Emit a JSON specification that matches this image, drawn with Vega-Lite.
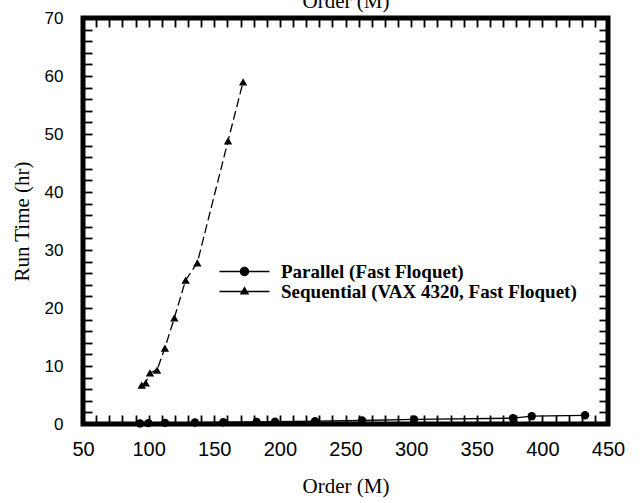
{
  "$schema": "https://vega.github.io/schema/vega-lite/v6.json",
  "width": 525,
  "height": 406,
  "autosize": {"type": "none"},
  "padding": {"left": 83, "top": 18, "right": 32, "bottom": 79},
  "background": "white",
  "config": {
    "view": {"stroke": "black", "strokeWidth": 5},
    "axis": {
      "domain": false,
      "grid": false,
      "tickColor": "black",
      "tickWidth": 1.8,
      "tickSize": -9,
      "labelColor": "black",
      "labelOverlap": false,
      "labelFlush": false,
      "titleColor": "black",
      "titleFont": "Liberation Serif",
      "titleFontWeight": "normal",
      "titleFontSize": 21
    }
  },
  "datasets": {
    "runs": [
      {"series": "Parallel (Fast Floquet)", "order": 93.4, "time": 0.1},
      {"series": "Parallel (Fast Floquet)", "order": 99.8, "time": 0.15},
      {"series": "Parallel (Fast Floquet)", "order": 112.5, "time": 0.2},
      {"series": "Parallel (Fast Floquet)", "order": 135.3, "time": 0.25},
      {"series": "Parallel (Fast Floquet)", "order": 156.9, "time": 0.3},
      {"series": "Parallel (Fast Floquet)", "order": 182.3, "time": 0.35},
      {"series": "Parallel (Fast Floquet)", "order": 196.3, "time": 0.4},
      {"series": "Parallel (Fast Floquet)", "order": 226.8, "time": 0.5},
      {"series": "Parallel (Fast Floquet)", "order": 262.6, "time": 0.6},
      {"series": "Parallel (Fast Floquet)", "order": 302.2, "time": 0.8},
      {"series": "Parallel (Fast Floquet)", "order": 377.6, "time": 1.0},
      {"series": "Parallel (Fast Floquet)", "order": 391.9, "time": 1.35},
      {"series": "Parallel (Fast Floquet)", "order": 432.5, "time": 1.5},
      {"series": "Sequential (VAX 4320, Fast Floquet)", "order": 94.7, "time": 6.7},
      {"series": "Sequential (VAX 4320, Fast Floquet)", "order": 97.8, "time": 7.1},
      {"series": "Sequential (VAX 4320, Fast Floquet)", "order": 101.0, "time": 8.8},
      {"series": "Sequential (VAX 4320, Fast Floquet)", "order": 106.4, "time": 9.3},
      {"series": "Sequential (VAX 4320, Fast Floquet)", "order": 112.4, "time": 13.1},
      {"series": "Sequential (VAX 4320, Fast Floquet)", "order": 119.6, "time": 18.3},
      {"series": "Sequential (VAX 4320, Fast Floquet)", "order": 128.2, "time": 24.8},
      {"series": "Sequential (VAX 4320, Fast Floquet)", "order": 137.1, "time": 27.8},
      {"series": "Sequential (VAX 4320, Fast Floquet)", "order": 160.5, "time": 48.8},
      {"series": "Sequential (VAX 4320, Fast Floquet)", "order": 172.0, "time": 59.0}
    ]
  },
  "layer": [
    {
      "data": {"name": "runs"},
      "encoding": {
        "x": {
          "field": "order",
          "type": "quantitative",
          "scale": {"domain": [50, 450], "nice": false, "zero": false},
          "axis": {
            "orient": "bottom",
            "title": "Order (M)",
            "titlePadding": 16,
            "values": [50, 60, 70, 80, 90, 100, 110, 120, 130, 140, 150, 160, 170, 180, 190, 200, 210, 220, 230, 240, 250, 260, 270, 280, 290, 300, 310, 320, 330, 340, 350, 360, 370, 380, 390, 400, 410, 420, 430, 440, 450],
            "labelExpr": "datum.value % 50 === 0 ? datum.label : ''",
            "labelFont": "Liberation Sans",
            "labelFontSize": 20,
            "labelPadding": 24,
            "encode": {"ticks": {"update": {"y2": {"signal": "datum.value % 50 === 0 ? -9 : -5"}}}}
          }
        },
        "y": {
          "field": "time",
          "type": "quantitative",
          "scale": {"domain": [0, 70], "nice": false},
          "axis": {
            "orient": "left",
            "title": "Run Time (hr)",
            "titlePadding": 12,
            "values": [0, 2, 4, 6, 8, 10, 12, 14, 16, 18, 20, 22, 24, 26, 28, 30, 32, 34, 36, 38, 40, 42, 44, 46, 48, 50, 52, 54, 56, 58, 60, 62, 64, 66, 68, 70],
            "labelExpr": "datum.value % 10 === 0 ? datum.label : ''",
            "labelFont": "Liberation Sans",
            "labelFontSize": 17,
            "labelPadding": 29,
            "encode": {"ticks": {"update": {"x2": {"signal": "datum.value % 10 === 0 ? 9 : 5"}}}}
          }
        }
      },
      "layer": [
        {
          "transform": [{"filter": "datum.series === 'Parallel (Fast Floquet)'"}],
          "mark": {"type": "line", "color": "black", "strokeWidth": 1.3},
          "encoding": {}
        },
        {
          "transform": [{"filter": "datum.series === 'Sequential (VAX 4320, Fast Floquet)'"}],
          "mark": {"type": "line", "color": "black", "strokeWidth": 1.3, "strokeDash": [9, 4]},
          "encoding": {}
        },
        {
          "mark": {"type": "point", "filled": true, "color": "black", "opacity": 1, "size": 70},
          "encoding": {
            "shape": {
              "field": "series",
              "type": "nominal",
              "scale": {
                "domain": ["Parallel (Fast Floquet)", "Sequential (VAX 4320, Fast Floquet)"],
                "range": ["circle", "triangle-up"]
              },
              "legend": null
            }
          }
        },
        {
          "transform": [{"filter": "false"}],
          "mark": {"type": "point", "filled": true, "color": "black", "opacity": 1},
          "encoding": {
            "shape": {
              "field": "series",
              "type": "nominal",
              "scale": {
                "domain": ["Parallel (Fast Floquet)", "Sequential (VAX 4320, Fast Floquet)"],
                "range": [
                  "M-5,-0.16H5V0.16H-5ZM0.94,0A0.94,0.94 0 1,1 -0.94,0A0.94,0.94 0 1,1 0.94,0Z",
                  "M-5,-0.16H5V0.16H-5ZM0,-1.05L0.95,0.6L-0.95,0.6Z"
                ]
              },
              "legend": {
                "title": null,
                "orient": "none",
                "legendX": 152,
                "legendY": 244,
                "padding": 0,
                "symbolSize": 100,
                "symbolFillColor": "black",
                "symbolOpacity": 1,
                "labelOffset": 27,
                "rowPadding": -2,
                "labelFont": "Liberation Serif",
                "labelFontWeight": "bold",
                "labelFontSize": 19,
                "labelColor": "black",
                "labelLimit": 420
              }
            }
          }
        }
      ],
      "resolve": {"scale": {"shape": "independent"}}
    },
    {
      "data": {"values": [{"order": 50, "time": 0}, {"order": 450, "time": 70}]},
      "mark": {"type": "point", "opacity": 0},
      "encoding": {
        "x": {
          "field": "order",
          "type": "quantitative",
          "scale": {"domain": [50, 450], "nice": false, "zero": false},
          "axis": {
            "orient": "top",
            "title": "Order (M)",
            "titleX": 262.5,
            "titleY": -11,
            "titleAlign": "center",
            "titleAnchor": null,
            "titleBaseline": "alphabetic",
            "labels": false,
            "values": [50, 60, 70, 80, 90, 100, 110, 120, 130, 140, 150, 160, 170, 180, 190, 200, 210, 220, 230, 240, 250, 260, 270, 280, 290, 300, 310, 320, 330, 340, 350, 360, 370, 380, 390, 400, 410, 420, 430, 440, 450],
            "encode": {"ticks": {"update": {"y2": {"signal": "datum.value % 50 === 0 ? 9 : 5"}}}}
          }
        },
        "y": {
          "field": "time",
          "type": "quantitative",
          "scale": {"domain": [0, 70], "nice": false},
          "axis": {
            "orient": "right",
            "title": null,
            "labels": false,
            "values": [0, 2, 4, 6, 8, 10, 12, 14, 16, 18, 20, 22, 24, 26, 28, 30, 32, 34, 36, 38, 40, 42, 44, 46, 48, 50, 52, 54, 56, 58, 60, 62, 64, 66, 68, 70],
            "encode": {"ticks": {"update": {"x2": {"signal": "datum.value % 10 === 0 ? -9 : -5"}}}}
          }
        }
      }
    }
  ],
  "resolve": {"scale": {"x": "independent", "y": "independent"}}
}
